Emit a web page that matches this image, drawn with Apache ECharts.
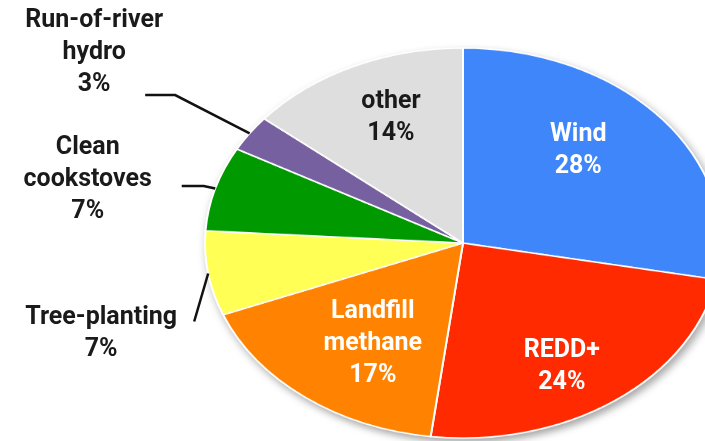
<!DOCTYPE html>
<html>
<head>
<meta charset="utf-8">
<script src="https://cdn.jsdelivr.net/npm/echarts@6/dist/echarts.min.js"></script>
<style>
  html, body { margin: 0; padding: 0; background: #fff; }
  #wrap { position: relative; width: 705px; height: 441px; overflow: hidden; }
  /* the slices are drawn on a circle and squashed into the tilted ellipse */
  #slices {
    position: absolute; left: 0; top: 0; width: 705px; height: 583px;
    transform: scaleY(0.756); transform-origin: 0 0;
    filter: drop-shadow(3px 5px 5px rgba(0, 0, 0, 0.35));
  }
  #labels { position: absolute; left: 0; top: 0; width: 705px; height: 583px; }
</style>
</head>
<body>
<div id="wrap">
  <div id="slices"></div>
  <div id="labels"></div>
</div>
<script>
// data, clockwise from 12 o'clock
var names = ["Wind", "REDD+", "Landfill methane", "Tree-planting", "Clean cookstoves", "Run-of-river hydro", "other"];
var shares = [28, 24, 17, 7, 7, 3, 14];

var sliceColors = ["#3f86fb", "#ff2a00", "#ff8200", "#ffff55", "#009a00", "#77609f", "#dedede"];
var textColors = ["#fff", "#fff", "#fff", "#1a1a1a", "#1a1a1a", "#1a1a1a", "#1a1a1a"];

// squash factor of the ellipse, and the pie geometry before squashing
var K = 0.756;
var CX = 463, CY = 243 / K, R = 258;

// labels that sit outside with a leader line
var leaders = {
  "Run-of-river hydro": { length: 90, length2: 30, dx: -51, dy: -42 },
  "Clean cookstoves": { length: 12, length2: 22, dx: -94, dy: -6 },
  "Tree-planting": { length: 10, length2: 0, bend: [-14, 48], dx: -93, dy: 12 }
};
// small hand nudges for the labels inside the slices
var nudges = {
  "Wind": [-17, -10],
  "REDD+": [-2, 19],
  "Landfill methane": [15, -2],
  "other": [1, -8]
};

var font = "Roboto, 'Noto Sans', sans-serif";

function pieData(withLabels) {
  return names.map(function (n, i) {
    var lead = leaders[n];
    var item = { name: n, value: shares[i] };
    if (withLabels) {
      item.label = { position: lead ? "outside" : "inside", color: textColors[i] };
      item.labelLine = lead ? { show: true, length: lead.length, length2: lead.length2 } : { show: false };
    }
    return item;
  });
}

var slices = echarts.init(document.getElementById("slices"));
slices.setOption({
  animation: false,
  color: sliceColors,
  series: [
    {
      type: "pie",
      center: [CX, CY],
      radius: R,
      startAngle: 90,
      clockwise: true,
      silent: true,
      label: { show: false },
      labelLine: { show: false },
      itemStyle: { borderColor: "#fff", borderWidth: 2 },
      data: pieData(false)
    }
  ]
});

var labels = echarts.init(document.getElementById("labels"));
labels.setOption({
  animation: false,
  series: [
    {
      type: "pie",
      center: [CX, CY],
      radius: R,
      startAngle: 90,
      clockwise: true,
      silent: true,
      avoidLabelOverlap: false,
      itemStyle: { color: "rgba(0,0,0,0)", borderWidth: 0 },
      label: {
        show: true,
        fontFamily: font,
        fontSize: 25,
        fontWeight: "bold",
        lineHeight: 32,
        align: "center",
        formatter: function (p) {
          return p.name.replace(/ /g, "\n") + "\n" + p.value + "%";
        }
      },
      labelLine: { lineStyle: { color: "#111", width: 2.5 } },
      labelLayout: function (p) {
        var rc = p.labelRect;
        var x = rc.x + rc.width / 2;
        var y = rc.y + rc.height / 2;
        var name = names[p.dataIndex];
        var lead = leaders[name];
        if (!lead) {
          // inside labels: push a bit outward, then squash like the slices
          x = CX + (x - CX) * 1.3;
          y = CY + (y - CY) * 1.3;
          var nd = nudges[name] || [0, 0];
          return { x: x + nd[0], y: y * K + nd[1], align: "center", verticalAlign: "middle" };
        }
        var line = p.labelLinePoints.map(function (q) { return [q[0], q[1] * K]; });
        if (lead.bend) {
          line = [line[0], [line[0][0] + lead.bend[0], line[0][1] + lead.bend[1]]];
        }
        var end = line[line.length - 1];
        return {
          x: end[0] + lead.dx,
          y: end[1] + lead.dy,
          align: "center",
          verticalAlign: "middle",
          labelLinePoints: line
        };
      },
      data: pieData(true)
    }
  ]
});
</script>
</body>
</html>
